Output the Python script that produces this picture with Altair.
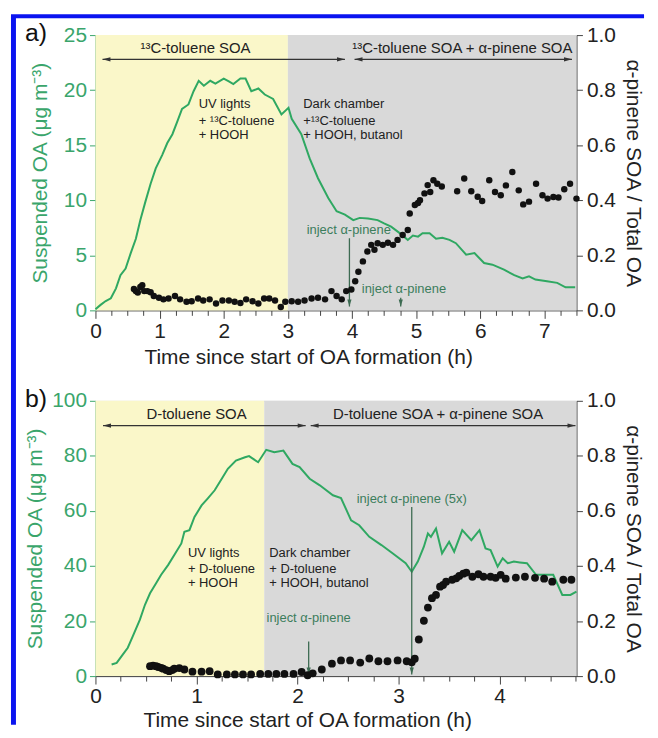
import altair as alt
import pandas as pd

# ---------------- data: panel a ----------------
a_line_t = [0.0, 0.08, 0.16, 0.24, 0.32, 0.39, 0.47, 0.55, 0.63, 0.7, 0.78, 0.86, 0.94, 1.04, 1.12, 1.2,
            1.28, 1.35, 1.45, 1.53, 1.61, 1.69, 1.79, 1.87, 2.0, 2.08, 2.15, 2.26, 2.34, 2.43, 2.54, 2.64,
            2.77, 2.9, 3.01, 3.06, 3.21, 3.34, 3.47, 3.63, 3.76, 3.89, 4.02, 4.12, 4.25, 4.4, 4.5, 4.61,
            4.77, 4.87, 4.95, 5.03, 5.1, 5.21, 5.31, 5.41, 5.52, 5.62, 5.78, 5.91, 6.06, 6.19, 6.37, 6.53,
            6.66, 6.76, 6.86, 7.04, 7.2, 7.33, 7.48]
a_line_v = [0.1, 0.5, 0.85, 1.1, 2.0, 3.2, 3.8, 5.2, 6.5, 8.2, 9.9, 11.5, 12.9, 14.1, 15.2, 16.0,
            17.2, 18.3, 18.7, 19.9, 20.85, 20.4, 20.85, 20.6, 21.05, 20.8, 20.55, 21.05, 21.05, 19.9, 20.15, 19.6,
            19.2, 17.8, 18.4, 17.4, 16.0, 13.8, 12.0, 10.2, 9.0, 8.7, 8.2, 8.4, 8.35, 8.2, 7.9, 7.6,
            6.9, 6.4, 6.8, 6.7, 7.0, 7.0, 6.5, 6.6, 6.4, 6.1, 5.05, 5.2, 4.3, 4.15, 3.7, 3.2,
            2.9, 3.1, 2.8, 2.65, 2.5, 2.1, 2.1]
a_pts_t = [0.6, 0.63, 0.66, 0.7, 0.73, 0.76, 0.81, 0.86, 0.91, 0.99, 1.06, 1.14, 1.24, 1.32, 1.42, 1.5,
           1.6, 1.68, 1.78, 1.88, 1.98, 2.08, 2.17, 2.26, 2.35, 2.45, 2.54, 2.63, 2.71, 2.8, 2.89, 2.96,
           3.06, 3.16, 3.26, 3.37, 3.47, 3.58, 3.68, 3.76, 3.84, 3.91, 3.99, 4.05, 4.1, 4.17, 4.24, 4.3,
           4.35, 4.4, 4.48, 4.56, 4.64, 4.71, 4.79, 4.87, 4.9, 4.98, 5.03, 5.06, 5.13, 5.18, 5.22, 5.27,
           5.33, 5.4, 5.64, 5.75, 5.86, 5.96, 6.03, 6.14, 6.23, 6.32, 6.4, 6.5, 6.6, 6.67, 6.76, 6.87,
           6.97, 7.05, 7.14, 7.22, 7.31, 7.4, 7.5]
a_pts_r = [0.078, 0.07, 0.065, 0.085, 0.091, 0.07, 0.07, 0.066, 0.052, 0.046, 0.04, 0.043, 0.052, 0.04, 0.031, 0.033,
           0.043, 0.036, 0.04, 0.025, 0.036, 0.036, 0.031, 0.027, 0.04, 0.033, 0.025, 0.043, 0.043, 0.036, 0.012, 0.031,
           0.033, 0.031, 0.036, 0.043, 0.046, 0.04, 0.07, 0.052, 0.04, 0.07, 0.076, 0.106, 0.14, 0.178, 0.214, 0.238,
           0.22, 0.244, 0.238, 0.246, 0.238, 0.256, 0.274, 0.292, 0.352, 0.383, 0.39, 0.4, 0.425, 0.455, 0.43, 0.473,
           0.46, 0.45, 0.433, 0.479, 0.433, 0.413, 0.397, 0.473, 0.43, 0.418, 0.454, 0.503, 0.436, 0.385, 0.395, 0.46,
           0.418, 0.406, 0.412, 0.41, 0.44, 0.46, 0.406]

# ---------------- data: panel b ----------------
b_line_t = [0.16, 0.21, 0.27, 0.32, 0.37, 0.44, 0.49, 0.54, 0.6, 0.65, 0.72, 0.78, 0.85, 0.88, 0.93, 0.98,
            1.05, 1.11, 1.18, 1.25, 1.31, 1.39, 1.48, 1.52, 1.61, 1.69, 1.77, 1.86, 1.95, 2.02, 2.12, 2.22,
            2.35, 2.43, 2.53, 2.61, 2.71, 2.83, 2.94, 3.07, 3.13, 3.19, 3.25, 3.29, 3.32, 3.37, 3.43, 3.5,
            3.55, 3.63, 3.72, 3.8, 3.86, 3.91, 3.98, 4.03, 4.08, 4.14, 4.2, 4.27, 4.36, 4.45, 4.53, 4.62,
            4.7, 4.76]
b_line_v = [4.2, 4.8, 7.8, 10.3, 14.5, 20.5, 25.9, 30.1, 33.7, 36.8, 40.4, 44.0, 48.2, 52.4, 53.0, 57.8,
            62.0, 64.5, 67.5, 71.7, 75.3, 78.3, 79.5, 79.9, 77.7, 82.2, 81.3, 81.9, 77.1, 75.9, 71.7, 69.3,
            65.7, 64.7, 56.6, 54.8, 50.6, 47.6, 44.6, 41.0, 37.9, 41.6, 47.0, 51.8, 50.6, 53.6, 44.6, 48.8,
            45.2, 53.0, 49.4, 53.0, 46.4, 45.8, 39.8, 42.8, 41.0, 41.6, 41.3, 41.0, 36.8, 36.8, 36.8, 29.5,
            29.5, 30.7]
b_pts_t = [0.54, 0.57, 0.6, 0.62, 0.65, 0.67, 0.7, 0.73, 0.76, 0.78, 0.83, 0.88, 0.96, 1.05, 1.13, 1.21,
           1.3, 1.38, 1.46, 1.54, 1.63, 1.71, 1.79, 1.87, 1.96, 2.04, 2.1, 2.15, 2.24, 2.34, 2.43, 2.52,
           2.62, 2.71, 2.8, 2.89, 2.99, 3.08, 3.13, 3.16, 3.2, 3.25, 3.29, 3.33, 3.37, 3.41, 3.44, 3.47,
           3.53, 3.57, 3.6, 3.64, 3.67, 3.73, 3.79, 3.84, 3.91, 3.96, 4.01, 4.06, 4.16, 4.25, 4.35, 4.44,
           4.52, 4.63, 4.71]
b_pts_r = [0.036, 0.038, 0.036, 0.033, 0.03, 0.027, 0.022, 0.018, 0.022, 0.027, 0.029, 0.024, 0.016, 0.016, 0.018, 0.006,
           0.006, 0.006, 0.006, 0.006, 0.008, 0.008, 0.008, 0.008, 0.008, 0.015, 0.003, 0.01, 0.024, 0.045, 0.057, 0.057,
           0.049, 0.064, 0.054, 0.054, 0.057, 0.054, 0.05, 0.063, 0.133, 0.201, 0.249, 0.283, 0.295, 0.325, 0.331, 0.343,
           0.35, 0.355, 0.364, 0.372, 0.376, 0.361, 0.37, 0.361, 0.361, 0.357, 0.368, 0.354, 0.358, 0.361, 0.357, 0.354,
           0.343, 0.35, 0.35]

# shaded periods (start, end, colour)
a_shade = [(0.0, 3.0, "#faf7c9"), (3.0, 7.5, "#d9d9d9")]
b_shade = [(0.0, 1.67, "#faf7c9"), (1.67, 4.76, "#d9d9d9")]

# double arrows (t start, t end, level, label, label t, label level)
a_spans = [(0.11, 3.89, 22.8, "¹³C-toluene SOA", 1.56, 23.8),
           (4.04, 7.43, 22.8, "¹³C-toluene SOA + α-pinene SOA", 5.72, 23.8)]
b_spans = [(0.075, 2.08, 91.0, "D-toluene SOA", 1.0, 95.2),
           (2.13, 4.75, 91.0, "D-toluene SOA + α-pinene SOA", 3.39, 95.2)]

# condition notes (t, level, text)
a_notes = [(1.61, 18.74, "UV lights"), (1.61, 17.24, "+ ¹³C-toluene"), (1.61, 15.88, "+ HOOH"),
           (3.24, 18.74, "Dark chamber"), (3.24, 17.24, "+¹³C-toluene"), (3.24, 15.88, "+ HOOH, butanol")]
b_notes = [(0.915, 44.6, "UV lights"), (0.915, 38.8, "+ D-toluene"), (0.915, 33.8, "+ HOOH"),
           (1.72, 44.6, "Dark chamber"), (1.72, 38.8, "+ D-toluene"), (1.72, 33.8, "+ HOOH, butanol")]

# injections (t, arrow top, arrow tip, label, label t, label level)
a_inject = [(3.96, 6.55, 0.35, "inject α-pinene", 3.95, 7.3),
            (4.76, 1.14, 0.35, "inject α-pinene", 4.81, 1.9)]
b_inject = [(2.11, 12.6, 0.6, "inject α-pinene", 2.11, 21.1),
            (3.13, 61.4, 0.6, "inject α-pinene (5x)", 3.13, 64.5)]

GREEN = "#2fa862"
AXGREEN = "#3aa56b"
NOTEGREEN = "#3c7d5c"
FONT = "Liberation Sans"


def panel(tag, line_t, line_v, pts_t, pts_r, shade, spans, notes, inject,
          xmax, xticks_max, ymax, ystep, title_x, title_y, ytitle_pad, pt_size, frame):
    xs = alt.Scale(domain=[0, xmax], nice=False, zero=False)
    ys = alt.Scale(domain=[0, ymax], nice=False)
    n_minor = int(round(xticks_max / 0.25))
    xaxis = alt.Axis(
        title="Time since start of OA formation (h)",
        values=[i * 0.25 for i in range(n_minor + 1)],
        labelExpr="datum.value % 1 === 0 ? format(datum.value, 'd') : ''",
        tickSize={"condition": {"test": "datum.value % 1 === 0", "value": 8}, "value": 5},
        tickColor="#444", domainColor="#444", labelColor="#222", labelFontSize=21, labelFont=FONT,
        labelPadding=2, titleFontSize=21, titleFont=FONT, titleFontWeight="normal", titleColor="#222",
        titleX=title_x, titleY=title_y, titleBaseline="middle", grid=False, labelFlush=False,
    )
    yaxis = alt.Axis(
        title="Suspended OA (μg m⁻³)",
        values=list(range(0, ymax + 1, ystep)), tickSize=6, tickColor=AXGREEN, domainColor=AXGREEN,
        labelColor=AXGREEN, labelFontSize=21, labelFont=FONT, labelPadding=3,
        titleColor=AXGREEN, titleFontSize=21, titleFont=FONT, titleFontWeight="normal",
        titlePadding=ytitle_pad, grid=False,
    )
    X = alt.X("t:Q", scale=xs, axis=xaxis)
    Y = alt.Y("v:Q", scale=ys, axis=yaxis)

    bg = alt.Chart(pd.DataFrame(shade, columns=["t", "t2", "c"])).mark_rect().encode(
        x=X, x2="t2:Q", color=alt.Color("c:N", scale=None))

    line = alt.Chart(pd.DataFrame({"t": line_t, "v": line_v})).mark_line(
        color=GREEN, strokeWidth=2).encode(x=X, y=Y)

    sp = pd.DataFrame(spans, columns=["t", "t2", "v", "label", "lt", "lv"])
    span_rule = alt.Chart(sp).mark_rule(color="#333", strokeWidth=1.3).encode(x=X, x2="t2:Q", y=Y)
    head_l = alt.Chart(sp).mark_point(shape="M0,0L2,-0.55L2,0.55Z", filled=True, size=64,
                                      color="#333", opacity=1).encode(x=X, y=Y)
    head_r = alt.Chart(sp).mark_point(shape="M0,0L-2,-0.55L-2,0.55Z", filled=True, size=64,
                                      color="#333", opacity=1).encode(x=alt.X("t2:Q", scale=xs, axis=xaxis), y=Y)
    span_txt = alt.Chart(sp).mark_text(fontSize=15, font=FONT, color="#222", baseline="middle").encode(
        x=alt.X("lt:Q", scale=xs, axis=xaxis), y=alt.Y("lv:Q", scale=ys, axis=yaxis), text="label:N")

    nt = pd.DataFrame(notes, columns=["t", "v", "label"])
    note_txt = alt.Chart(nt).mark_text(fontSize=13, font=FONT, color="#222", align="left",
                                       baseline="middle").encode(x=X, y=Y, text="label:N")

    ij = pd.DataFrame(inject, columns=["t", "v", "v2", "label", "lt", "lv"])
    ij_rule = alt.Chart(ij).mark_rule(color="#3d6b52", strokeWidth=1.3).encode(x=X, y=Y, y2="v2:Q")
    ij_head = alt.Chart(ij).mark_point(shape="M0,0L-0.6,-2L0.6,-2Z", filled=True, size=49,
                                       color="#3d6b52", opacity=1).encode(
        x=X, y=alt.Y("v2:Q", scale=ys, axis=yaxis))
    ij_txt = alt.Chart(ij).mark_text(fontSize=13, font=FONT, color=NOTEGREEN, baseline="middle").encode(
        x=alt.X("lt:Q", scale=xs, axis=xaxis), y=alt.Y("lv:Q", scale=ys, axis=yaxis), text="label:N")

    one = pd.DataFrame({"k": [0]})
    tag_txt = alt.Chart(one).mark_text(fontSize=25, font=FONT, color="#111", align="left",
                                       baseline="middle").encode(
        x=alt.value(-71), y=alt.value(-2), text=alt.value(tag))

    layers = [bg, line, span_rule, head_l, head_r, span_txt, note_txt, ij_rule, ij_head, ij_txt, tag_txt]
    if frame:
        left_edge = alt.Chart(one).mark_rule(color="#0a14f0", strokeWidth=5).encode(
            x=alt.value(-82.5), y=alt.value(-19), y2=alt.value(694))
        top_edge = alt.Chart(one).mark_rule(color="#0a14f0", strokeWidth=4).encode(
            x=alt.value(-85), x2=alt.value(552), y=alt.value(-19))
        layers += [left_edge, top_edge]
    left = alt.layer(*layers)

    raxis = alt.Axis(
        title="α-pinene SOA / Total OA", orient="right", values=[0, 0.2, 0.4, 0.6, 0.8, 1.0],
        format=".1f", tickSize=6, tickColor="#444", domainColor="#444", labelColor="#222",
        labelFontSize=21, labelFont=FONT, labelPadding=4, titleFontSize=21, titleFont=FONT,
        titleFontWeight="normal", titleColor="#222", titlePadding=7, grid=False,
    )
    pts = alt.Chart(pd.DataFrame({"t": pts_t, "r": pts_r})).mark_circle(
        color="#111", size=pt_size, opacity=1).encode(
        x=X, y=alt.Y("r:Q", scale=alt.Scale(domain=[0, 1], nice=False), axis=raxis))

    return alt.layer(left, pts).resolve_scale(y="independent").properties(width=484, height=277)


pa = panel("a)", a_line_t, a_line_v, a_pts_t, a_pts_r, a_shade, a_spans, a_notes, a_inject,
           7.5, 7.5, 25, 5, 214, 47, 13, 42, True)
pb = panel("b)", b_line_t, b_line_v, b_pts_t, b_pts_r, b_shade, b_spans, b_notes, b_inject,
           4.76, 4.75, 100, 20, 213, 45, 6, 62, False)

chart = alt.vconcat(pa, pb, spacing=91, bounds="flush").properties(
    padding={"left": 0, "top": 3, "right": 3, "bottom": 0}
).configure_view(stroke="#444", strokeWidth=1).configure(background="white")

chart.save("out.html", embed_options={"renderer": "svg", "actions": False})
